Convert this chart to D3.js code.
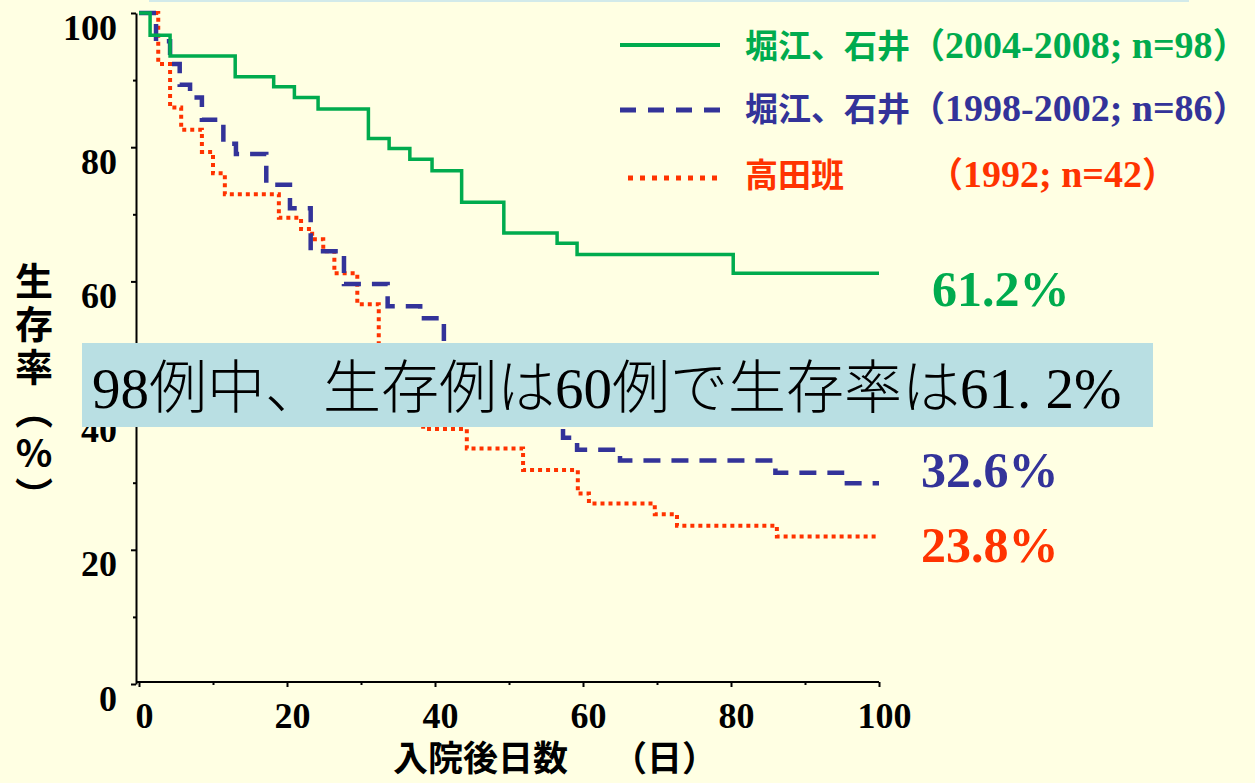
<!DOCTYPE html>
<html>
<head>
<meta charset="utf-8">
<script src="https://cdn.jsdelivr.net/npm/d3@7"></script>
<style>
  html, body { margin: 0; padding: 0; background: #ffffe3; }
  svg { display: block; }
</style>
</head>
<body>
<div id="chart"></div>
<script>
// Kaplan-Meier steps: day of each drop and survival (%) after it
const greenDays = [0, 1.5, 4.2, 13.0, 18.2, 21.0, 24.2, 31.0, 33.8, 36.6, 39.6, 43.6, 49.3, 56.5, 59.2, 80.3, 100];
const greenSurv = [100, 96.7, 93.6, 90.5, 89.0, 87.4, 85.7, 81.3, 79.8, 78.2, 76.5, 71.8, 67.2, 65.7, 64.0, 61.2, 61.2];

const blueDays = [0, 2.3, 4.2, 5.5, 6.9, 8.5, 11.4, 13.1, 17.2, 20.4, 23.2, 27.7, 33.6, 38.0, 41.2, 45.0, 49.0, 53.0, 57.3, 59.2, 65.0, 86.0, 95.0, 100];
const blueSurv = [100, 95.8, 92.4, 89.3, 87.4, 84.1, 80.5, 79.0, 74.4, 70.9, 64.5, 59.6, 56.3, 54.5, 50.0, 46.5, 43.0, 40.0, 36.7, 34.9, 33.3, 31.5, 29.9, 29.9];

const redDays = [0, 2.6, 4.2, 5.7, 8.5, 10.0, 11.6, 18.9, 21.9, 23.4, 24.9, 26.4, 29.5, 32.4, 35.5, 38.4, 44.3, 51.9, 59.3, 60.8, 69.7, 72.7, 86.2, 100];
const redSurv = [100, 92.4, 85.9, 82.6, 79.3, 76.1, 73.0, 69.5, 67.8, 66.3, 64.5, 61.2, 56.6, 48.0, 43.0, 38.0, 35.1, 31.9, 28.4, 26.9, 25.3, 23.6, 22.0, 22.0];

const xTicks = [0, 20, 40, 60, 80, 100];
const yTicks = [0, 20, 40, 60, 80, 100];
const minorTicks = [10, 30, 50, 70, 90];

const endLabels = ["61.2%", "32.6%", "23.8%"];
const legendNames = ["堀江、石井", "堀江、石井", "高田班"];
const legendYears = ["2004-2008; n=98", "1998-2002; n=86", "1992; n=42"];
const note = ["98", "例中、生存例は", "60", "例で生存率は", "61. 2%"];

const W = 1255, H = 783;
const green = "#00ab4e", blue = "#333399", red = "#ff3300";
const serif = "'Liberation Serif', 'Times New Roman', serif";
const cjk = "'Noto Sans CJK JP', sans-serif";

const svg = d3.select("#chart").append("svg")
    .attr("width", W)
    .attr("height", H);

svg.append("rect").attr("width", W).attr("height", H).attr("fill", "#ffffe3");
// thin strip left from the slide above
svg.append("rect").attr("x", 149).attr("y", 0).attr("width", 1040).attr("height", 2).attr("fill", "#d2eaea");

const x = d3.scaleLinear().domain([0, 100]).range([139, 879]);
const y = d3.scaleLinear().domain([0, 100]).range([684, 13]);

// Axes
const yAxis = svg.append("g")
    .attr("transform", "translate(136,0)")
    .call(d3.axisLeft(y).tickValues(yTicks).tickSize(5).tickSizeOuter(0).tickPadding(14));
yAxis.selectAll(".tick text").attr("dy", 26);

svg.append("g")
    .attr("transform", "translate(136,0)")
    .call(d3.axisLeft(y).tickValues(minorTicks).tickSize(3).tickFormat(""))
    .select(".domain").remove();

const xAxis = svg.append("g")
    .attr("transform", "translate(0,682)")
    .call(d3.axisBottom(x).tickValues(xTicks).tickSize(5).tickSizeOuter(0));
xAxis.selectAll(".tick text").attr("y", 46).attr("dy", 0).attr("x", 5);
xAxis.select(".domain").attr("d", "M136,0H879");

svg.append("g")
    .attr("transform", "translate(0,682)")
    .call(d3.axisBottom(x).tickValues(minorTicks).tickSize(3).tickFormat(""))
    .select(".domain").remove();

svg.selectAll(".domain, .tick line").attr("stroke", "#000").attr("stroke-width", 2);
svg.selectAll(".tick text")
    .attr("fill", "#000")
    .style("font-family", serif)
    .style("font-weight", "bold")
    .style("font-size", "36px");

// Curves
const line = d3.line()
    .x(d => x(d[0]))
    .y(d => y(d[1]))
    .curve(d3.curveStepAfter);

svg.append("path")
    .datum(redDays.map((d, i) => [d, redSurv[i]]))
    .attr("d", line)
    .attr("fill", "none")
    .attr("stroke", red)
    .attr("stroke-width", 4)
    .attr("stroke-dasharray", "4,4");

svg.append("path")
    .datum(blueDays.map((d, i) => [d, blueSurv[i]]))
    .attr("d", line)
    .attr("fill", "none")
    .attr("stroke", blue)
    .attr("stroke-width", 4.5)
    .attr("stroke-dasharray", "17,11");

svg.append("path")
    .datum(greenDays.map((d, i) => [d, greenSurv[i]]))
    .attr("d", line)
    .attr("fill", "none")
    .attr("stroke", green)
    .attr("stroke-width", 3.5);

// End labels
const endY = [306, 487, 562];
const endX = [932, 921, 921];
const endCol = [green, blue, red];
svg.selectAll(".endlab")
    .data(endLabels)
    .enter().append("text")
    .attr("class", "endlab")
    .attr("x", (d, i) => endX[i])
    .attr("y", (d, i) => endY[i])
    .attr("fill", (d, i) => endCol[i])
    .style("font-family", serif)
    .style("font-weight", "bold")
    .style("font-size", "50px")
    .text(d => d);

// Legend
const legY = [45, 110, 178];
const textY = [58, 121, 187];
const legCol = [green, blue, red];
const legDash = [null, "16,12", "5,7"];
legY.forEach((ly, i) => {
    svg.append("line")
        .attr("x1", i === 2 ? 628 : 620).attr("x2", 720)
        .attr("y1", ly).attr("y2", ly)
        .attr("stroke", legCol[i])
        .attr("stroke-width", i === 0 ? 4 : 5)
        .attr("stroke-dasharray", legDash[i]);

    const t = svg.append("text")
        .attr("x", 745)
        .attr("y", textY[i])
        .attr("fill", legCol[i])
        .style("font-weight", "bold");
    t.append("tspan").style("font-family", cjk).style("font-size", "33px").text(legendNames[i]);
    const p = t.append("tspan").style("font-family", cjk).style("font-size", "35px").text("（");
    if (i === 2) p.attr("x", 928);
    t.append("tspan").style("font-family", serif).style("font-size", "38px").text(legendYears[i]);
    t.append("tspan").style("font-family", cjk).style("font-size", "35px").text("）");
});

// Y title, written top to bottom as one text
svg.append("text")
    .attr("x", 34)
    .attr("y", 262)
    .style("writing-mode", "vertical-rl")
    .style("text-orientation", "upright")
    .style("font-family", cjk)
    .style("font-weight", "bold")
    .style("font-size", "38px")
    .style("letter-spacing", "5px")
    .text("生存率（%）");

const xt = svg.append("text")
    .attr("x", 393)
    .attr("y", 771)
    .style("font-family", cjk)
    .style("font-weight", "bold")
    .style("font-size", "35px");
xt.append("tspan").text("入院後日数");
xt.append("tspan").attr("x", 612).text("（日）");

// Annotation box
svg.append("rect")
    .attr("x", 82).attr("y", 343)
    .attr("width", 1071).attr("height", 84)
    .attr("fill", "#b9dfe3");

const nt = svg.append("text")
    .attr("x", 92)
    .attr("y", 408)
    .attr("fill", "#000");
note.forEach((s, i) => {
    const digits = i % 2 === 0;
    nt.append("tspan")
        .style("font-family", digits ? serif : cjk)
        .style("font-weight", digits ? "normal" : 300)
        .style("font-size", digits ? "57px" : "58px")
        .text(s);
});
</script>
</body>
</html>
